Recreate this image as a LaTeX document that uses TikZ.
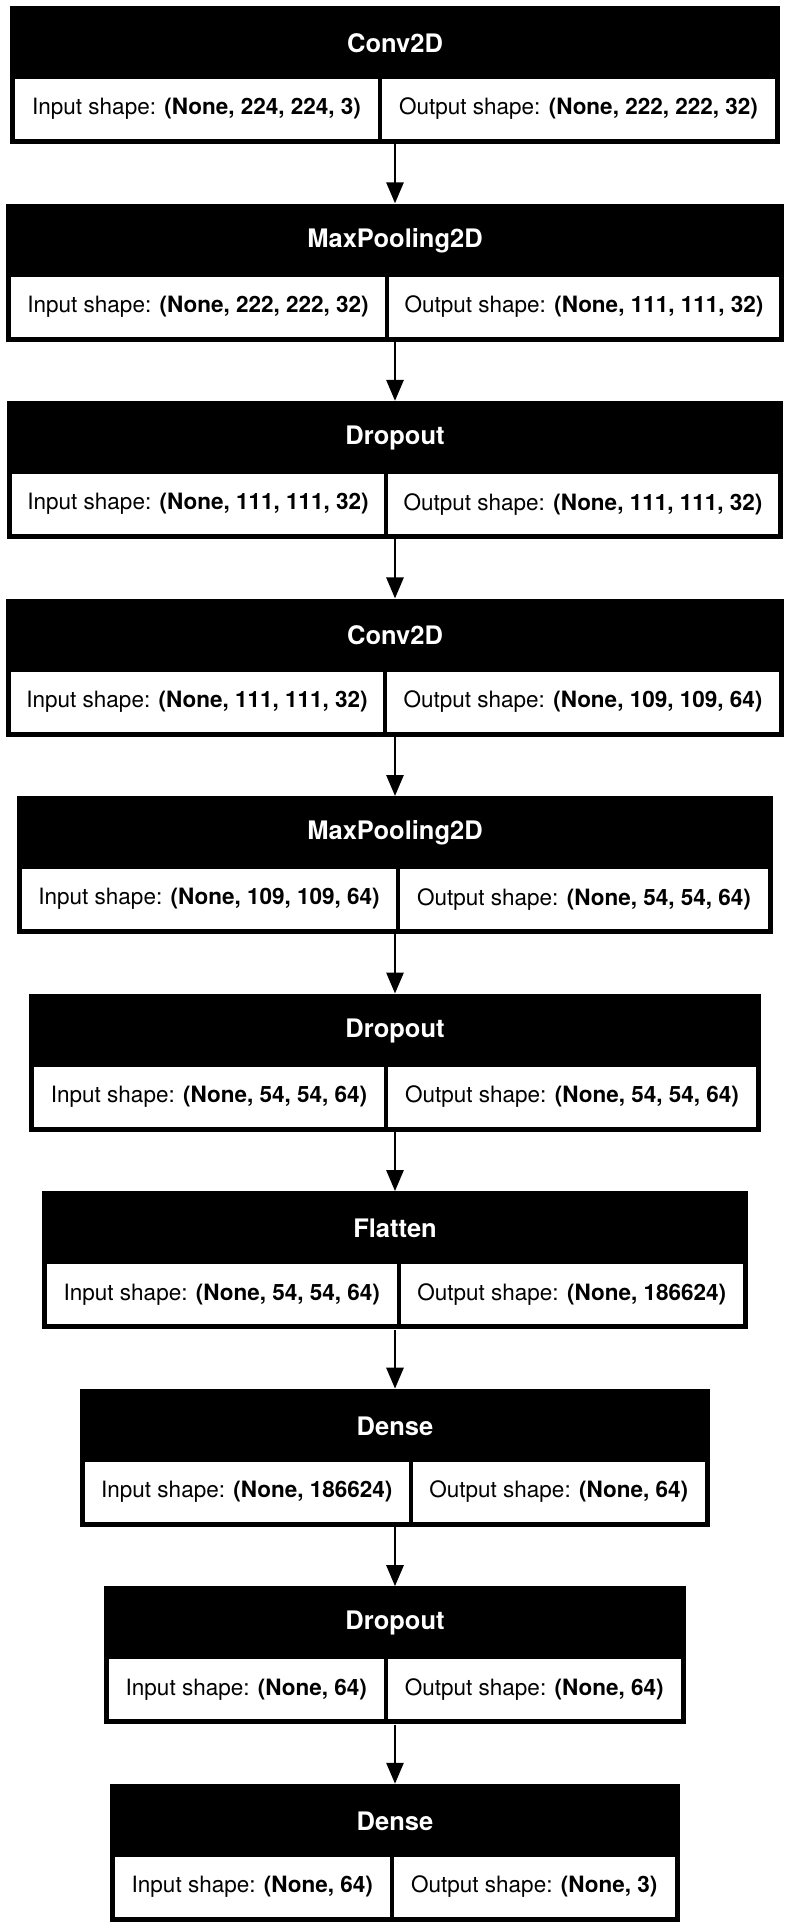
\documentclass[tikz,border=0pt]{standalone}
\usepackage{fontspec}
\setmainfont{TeX Gyre Heros}
\usetikzlibrary{arrows.meta}
\tikzset{
  blk/.style={fill=black, draw=none, inner sep=0pt, minimum height=138pt},
  cellbox/.style={fill=white, draw=none, inner sep=0pt, minimum height=60pt, text=black,
    font=\fontsize{22.5}{26}\selectfont},
  hdr/.style={text=white, inner sep=0pt, font=\bfseries\fontsize{25.5}{30}\selectfont},
  arr/.style={-{Triangle[width=17pt,length=21pt]}, line width=2.8pt, draw=black}
}
% #1 name, #2 top, #3 half width, #4 separator x, #5 header, #6 input, #7 output
\newcommand{\kerasLayer}[7]{%
  \pgfmathsetmacro\Lcy{#2+69}%
  \pgfmathsetmacro\Lhy{#2+37}%
  \pgfmathsetmacro\Lry{#2+103}%
  \pgfmathsetmacro\Lw{2*#3}%
  \pgfmathsetmacro\La{395-#3+5}%
  \pgfmathsetmacro\Lb{#4-2}%
  \pgfmathsetmacro\Lc{#4+2}%
  \pgfmathsetmacro\Ld{395+#3-5}%
  \pgfmathsetmacro\Llw{\Lb-\La}%
  \pgfmathsetmacro\Llx{(\La+\Lb)/2}%
  \pgfmathsetmacro\Lrw{\Ld-\Lc}%
  \pgfmathsetmacro\Lrx{(\Lc+\Ld)/2}%
  \node[blk, minimum width=\Lw pt] (#1) at (395,\Lcy) {};
  \node[hdr] (#1h) at (395,\Lhy) {#5};
  \node[cellbox, minimum width=\Llw pt] (#1i) at (\Llx,\Lry) {Input shape: \textbf{#6}};
  \node[cellbox, minimum width=\Lrw pt] (#1o) at (\Lrx,\Lry) {Output shape: \textbf{#7}};
}
\begin{document}
\begin{tikzpicture}[x=1pt,y=-1pt]
\fill[white] (0,0) rectangle (790,1928);
\useasboundingbox (0,0) rectangle (790,1928);
\kerasLayer{b1}{6}{385}{380}{Conv2D}{(None, 224, 224, 3)}{(None, 222, 222, 32)}
\kerasLayer{b2}{203.55}{389}{387}{MaxPooling2D}{(None, 222, 222, 32)}{(None, 111, 111, 32)}
\kerasLayer{b3}{401.1}{388}{386}{Dropout}{(None, 111, 111, 32)}{(None, 111, 111, 32)}
\kerasLayer{b4}{598.65}{389}{385}{Conv2D}{(None, 111, 111, 32)}{(None, 109, 109, 64)}
\kerasLayer{b5}{796.2}{378}{398}{MaxPooling2D}{(None, 109, 109, 64)}{(None, 54, 54, 64)}
\kerasLayer{b6}{993.75}{366}{386}{Dropout}{(None, 54, 54, 64)}{(None, 54, 54, 64)}
\kerasLayer{b7}{1191.3}{353}{398.5}{Flatten}{(None, 54, 54, 64)}{(None, 186624)}
\kerasLayer{b8}{1388.85}{315}{410.5}{Dense}{(None, 186624)}{(None, 64)}
\kerasLayer{b9}{1586.4}{291}{385.5}{Dropout}{(None, 64)}{(None, 64)}
\kerasLayer{b10}{1783.95}{285}{391.5}{Dense}{(None, 64)}{(None, 3)}
\draw[arr] (b1.south) -- (b2.north);
\draw[arr] (b2.south) -- (b3.north);
\draw[arr] (b3.south) -- (b4.north);
\draw[arr] (b4.south) -- (b5.north);
\draw[arr] (b5.south) -- (b6.north);
\draw[arr] (b6.south) -- (b7.north);
\draw[arr] (b7.south) -- (b8.north);
\draw[arr] (b8.south) -- (b9.north);
\draw[arr] (b9.south) -- (b10.north);
\end{tikzpicture}
\end{document}
